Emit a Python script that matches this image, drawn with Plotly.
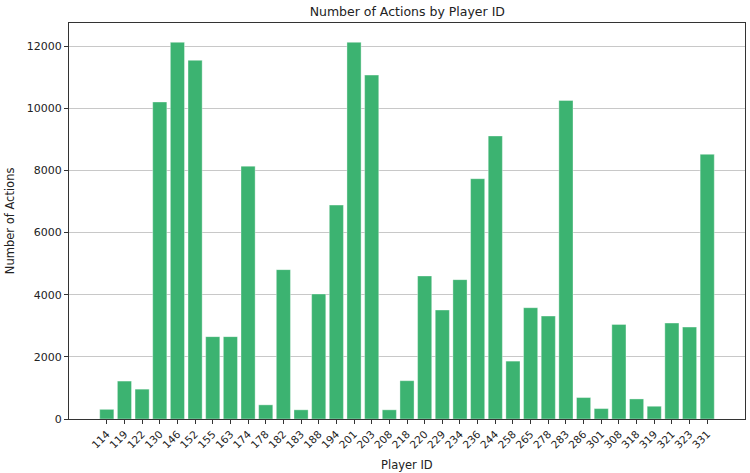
import plotly.graph_objects as go

player_ids = ["114", "119", "122", "130", "146", "152", "155", "163", "174", "178",
              "182", "183", "188", "194", "201", "203", "208", "218", "220", "229",
              "234", "236", "244", "258", "265", "278", "283", "286", "301", "308",
              "318", "319", "321", "323", "331"]
action_counts = [310, 1220, 960, 10200, 12120, 11540, 2650, 2650, 8135, 455,
                 4806, 295, 4022, 6882, 12120, 11065, 295, 1232, 4602, 3506,
                 4484, 7732, 9107, 1862, 3581, 3312, 10248, 690, 335, 3043,
                 645, 410, 3086, 2957, 8516]
y_ticks = [0, 2000, 4000, 6000, 8000, 10000, 12000]

font_family = "DejaVu Sans"
text_color = "#222222"

fig = go.Figure()
fig.add_trace(go.Bar(
    x=player_ids,
    y=action_counts,
    marker=dict(color="#3CB371", line=dict(color="rgba(255,255,255,0.6)", width=0.6)),
))

fig.update_layout(
    width=750, height=473,
    margin=dict(l=69, r=5, t=23, b=54),
    paper_bgcolor="white", plot_bgcolor="white",
    bargap=0.2,
    showlegend=False,
    font=dict(family=font_family, color=text_color, size=11),
    title=dict(text="Number of Actions by Player ID", x=0.5431, xanchor="center",
               y=0.975, yanchor="middle", font=dict(size=12.5, family=font_family, color=text_color)),
    annotations=[
        dict(text="Player ID", xref="paper", yref="paper", x=0.5, y=-0.115,
             xanchor="center", yanchor="middle", showarrow=False, font=dict(size=11.5)),
        dict(text="Number of Actions", xref="paper", yref="paper", x=-0.087, y=0.5,
             xanchor="center", yanchor="middle", textangle=-90, showarrow=False, font=dict(size=11.5)),
    ],
)
fig.update_xaxes(
    type="category",
    range=[-2.14, 36.14],
    automargin=False,
    tickangle=-45,
    ticks="outside", ticklen=4, tickcolor="#333", tickwidth=1,
    showline=True, linecolor="#333", linewidth=1, mirror=True,
    showgrid=False,
    tickfont=dict(size=10.5),
)
fig.update_yaxes(
    range=[0, 12742],
    automargin=False,
    tickvals=y_ticks,
    ticktext=[str(v) for v in y_ticks],
    ticks="outside", ticklen=4, tickcolor="#333", tickwidth=1,
    showline=True, linecolor="#333", linewidth=1, mirror=True,
    showgrid=True, gridcolor="#c8c8c8", gridwidth=1,
    zeroline=False,
    tickfont=dict(size=11),
)

fig.write_html("out.html",
               config={"displayModeBar": False},
               post_script="document.body.style.margin='0';document.body.style.overflow='hidden';")
